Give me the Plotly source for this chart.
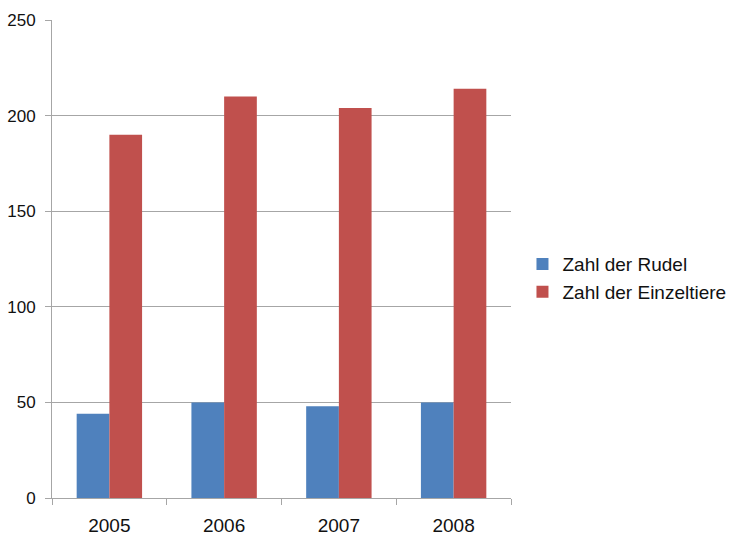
import plotly.graph_objects as go

years = ["2005", "2006", "2007", "2008"]
rudel = [44, 50, 48, 50]
einzeltiere = [190, 210, 204, 214]
series_names = ["Zahl der Rudel", "Zahl der Einzeltiere"]
y_ticks = [0, 50, 100, 150, 200, 250]

fig = go.Figure()
fig.add_trace(go.Bar(x=years, y=rudel, name=series_names[0],
                     marker=dict(color="#4F81BD", line=dict(width=0))))
fig.add_trace(go.Bar(x=years, y=einzeltiere, name=series_names[1],
                     marker=dict(color="#C0504D", line=dict(width=0))))

grid = "#A6A6A6"
fig.update_layout(
    width=731, height=536,
    margin=dict(l=52, r=220, t=20, b=38, autoexpand=False),
    paper_bgcolor="white", plot_bgcolor="white",
    barmode="group", bargap=0.43, bargroupgap=0,
    font=dict(family="Liberation Sans, Arial, sans-serif", color="#111111"),
    showlegend=True,
    legend=dict(x=1.025, y=0.46, xanchor="left", yanchor="middle",
                font=dict(size=19), itemsizing="constant", itemwidth=30,
                tracegroupgap=8, bgcolor="rgba(0,0,0,0)"),
    xaxis=dict(showline=True, linecolor=grid, linewidth=1, automargin=False,
               ticks="outside", tickson="boundaries", ticklen=6, tickcolor=grid,
               tickfont=dict(size=19), ticklabelstandoff=10, showgrid=False),
    yaxis=dict(range=[0, 250], tickvals=y_ticks, showline=True, linecolor=grid,
               linewidth=1, ticks="outside", ticklen=6, tickcolor=grid,
               showgrid=True, gridcolor=grid, gridwidth=1, automargin=False,
               tickfont=dict(size=17), ticklabelstandoff=6, zeroline=False),
)
fig.write_html(
    "out.html",
    config={"displayModeBar": False},
    post_script="document.body.style.margin='0';document.body.style.overflow='hidden';",
)
